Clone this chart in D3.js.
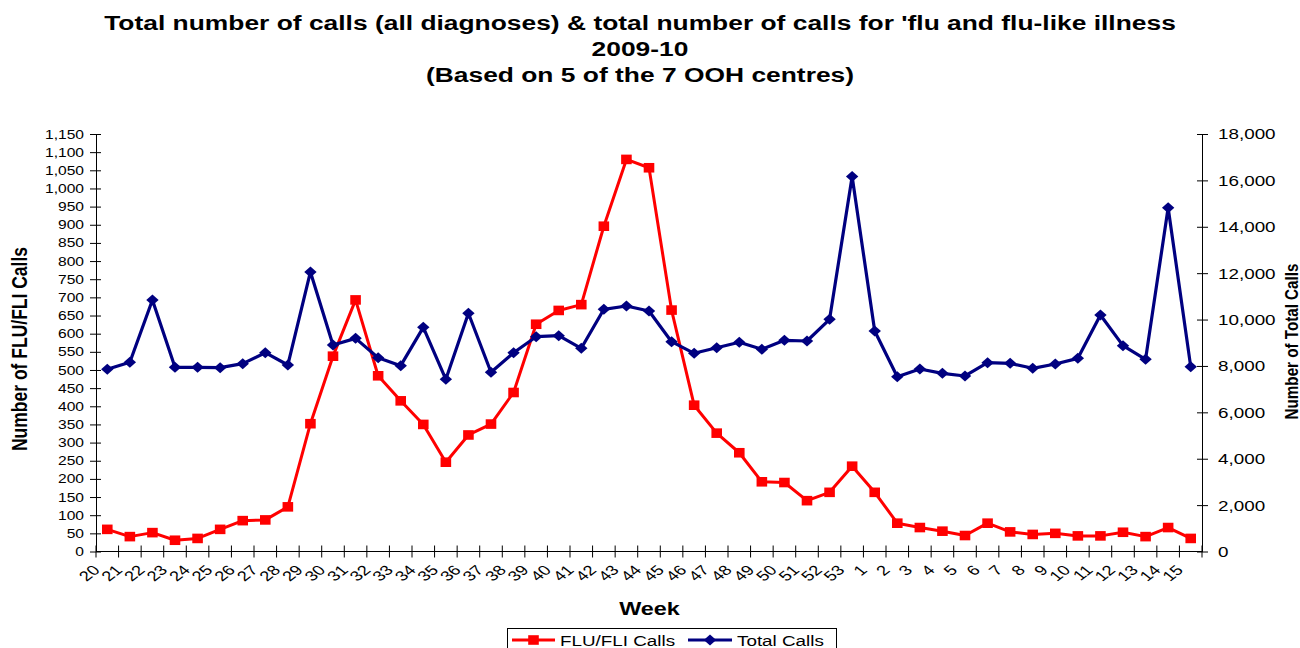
<!DOCTYPE html>
<html>
<head>
<meta charset="utf-8">
<script src="https://cdn.jsdelivr.net/npm/d3@7"></script>
<style>
  html, body { margin: 0; padding: 0; background: #fff; }
  svg { display: block; font-family: "Liberation Sans", Arial, sans-serif; }
</style>
</head>
<body>
<script>
// ---- data ----
const weeks = ["20","21","22","23","24","25","26","27","28","29","30","31","32","33","34","35","36","37","38","39","40","41","42","43","44","45","46","47","48","49","50","51","52","53","1","2","3","4","5","6","7","8","9","10","11","12","13","14","15"];
const fluCalls = [61,41,52,31,36,61,85,87,123,352,538,693,484,415,350,246,321,351,438,626,664,680,896,1080,1057,665,403,326,272,192,190,140,163,235,163,78,66,56,44,78,54,47,50,43,43,53,41,66,36];
const totalCalls = [7855,8156,10843,7941,7941,7927,8099,8571,8041,12051,8903,9190,8357,8012,9665,7424,10270,7726,8571,9261,9304,8761,10442,10585,10369,9046,8545,8787,9020,8718,9106,9076,10011,16170,9507,7537,7868,7682,7567,8141,8113,7898,8084,8328,10197,8874,8285,14824,7970];
const leftTicks = d3.range(0, 1151, 50);
const rightTicks = d3.range(0, 18001, 2000);
const titleLines = ["Total number of calls (all diagnoses) & total number of calls for 'flu and flu-like illness", "2009-10", "(Based on 5 of the 7 OOH centres)"];
const seriesNames = ["FLU/FLI Calls", "Total Calls"];

// ---- layout ----
const W = 1300, H = 648;
const plot = { left: 96, right: 1202, top: 134, bottom: 551.5 };

const svg = d3.select("body").append("svg").attr("width", W).attr("height", H);

const x = d3.scaleBand().domain(weeks).range([plot.left, plot.right]).padding(0);
const xc = d => x(d) + x.bandwidth() / 2;
const yL = d3.scaleLinear().domain([0, 1150]).range([plot.bottom, plot.top]);
const yR = d3.scaleLinear().domain([0, 18000]).range([plot.bottom, plot.top]);
const fmt = d3.format(",");

// Title
titleLines.forEach((t, i) => {
  svg.append("text")
    .attr("transform", `translate(640,${[30, 56, 81.7][i]}) scale(1.32,1)`)
    .attr("text-anchor", "middle")
    .attr("font-weight", "bold")
    .attr("font-size", 20)
    .attr("fill", "#000")
    .text(t);
});

// Left axis
const gL = svg.append("g").attr("transform", `translate(${plot.left},0)`)
  .call(d3.axisLeft(yL).tickValues(leftTicks).tickFormat(fmt).tickSize(6).tickSizeOuter(0));
gL.select(".domain").attr("stroke", "#000").attr("stroke-width", 1);
gL.selectAll(".tick line").attr("x1", -6).attr("x2", 5).attr("stroke", "#000");
gL.selectAll(".tick text")
  .attr("x", null).attr("dy", "0.34em")
  .attr("transform", "translate(-12,0) scale(1.3,1)")
  .attr("font-size", 12).attr("font-family", "Liberation Sans, Arial, sans-serif").attr("fill", "#000");

// Right axis
const gR = svg.append("g").attr("transform", `translate(${plot.right},0)`)
  .call(d3.axisRight(yR).tickValues(rightTicks).tickFormat(fmt).tickSize(6).tickSizeOuter(0));
gR.select(".domain").attr("stroke", "#000").attr("stroke-width", 1);
gR.selectAll(".tick line").attr("x1", -5).attr("x2", 6).attr("stroke", "#000");
gR.selectAll(".tick text")
  .attr("x", null).attr("dy", "0.34em")
  .attr("transform", "translate(16,0) scale(1.3,1)")
  .attr("font-size", 14.5).attr("font-family", "Liberation Sans, Arial, sans-serif").attr("fill", "#000");

// Bottom axis line + boundary ticks
svg.append("line")
  .attr("x1", plot.left).attr("x2", plot.right)
  .attr("y1", plot.bottom).attr("y2", plot.bottom)
  .attr("stroke", "#000");
const bounds = weeks.map(d => x(d)).concat([plot.right]);
svg.append("g").selectAll("line").data(bounds).join("line")
  .attr("x1", d => d).attr("x2", d => d)
  .attr("y1", plot.bottom - 6).attr("y2", plot.bottom + 6)
  .attr("stroke", "#000");

// X labels
svg.append("g").selectAll("text").data(weeks).join("text")
  .attr("transform", d => `translate(${xc(d) - 11},${plot.bottom + 16}) scale(1.3,1) rotate(-45)`)
  .attr("text-anchor", "end")
  .attr("dy", "0.35em")
  .attr("font-size", 14)
  .attr("fill", "#000")
  .text(d => d);

// Axis titles
svg.append("text")
  .attr("transform", `translate(19,349) scale(1.3,1) rotate(-90)`)
  .attr("text-anchor", "middle").attr("dy", "0.35em")
  .attr("font-weight", "bold").attr("font-size", 17.5)
  .text("Number of FLU/FLI Calls");
svg.append("text")
  .attr("transform", `translate(1292,341.5) scale(1.15,1) rotate(-90)`)
  .attr("text-anchor", "middle").attr("dy", "0.35em")
  .attr("font-weight", "bold").attr("font-size", 15.2)
  .text("Number of Total Calls");
svg.append("text")
  .attr("transform", `translate(649.5,615) scale(1.3,1)`)
  .attr("text-anchor", "middle")
  .attr("font-weight", "bold").attr("font-size", 18)
  .text("Week");

// Lines
const RED = "#FF0000", NAVY = "#000080";
const lineL = d3.line().x((d, i) => xc(weeks[i])).y(d => yL(d));
const lineR = d3.line().x((d, i) => xc(weeks[i])).y(d => yR(d));

svg.append("path").datum(fluCalls).attr("d", lineL)
  .attr("fill", "none").attr("stroke", RED).attr("stroke-width", 3).attr("stroke-linejoin", "round");
svg.append("path").datum(totalCalls).attr("d", lineR)
  .attr("fill", "none").attr("stroke", NAVY).attr("stroke-width", 3.2).attr("stroke-linejoin", "round");

const diamond = (cx, cy, hw = 6.2, hh = 5.5) => `M${cx - hw},${cy}L${cx},${cy - hh}L${cx + hw},${cy}L${cx},${cy + hh}Z`;
const square = (cx, cy, hw = 5.3, hh = 4.8) => `M${cx - hw},${cy - hh}H${cx + hw}V${cy + hh}H${cx - hw}Z`;

svg.append("g").selectAll("path").data(fluCalls).join("path")
  .attr("d", (d, i) => square(xc(weeks[i]), yL(d)))
  .attr("fill", RED);
svg.append("g").selectAll("path").data(totalCalls).join("path")
  .attr("d", (d, i) => diamond(xc(weeks[i]), yR(d)))
  .attr("fill", NAVY);

// Legend
const lg = svg.append("g");
lg.append("rect").attr("x", 507.5).attr("y", 628.5).attr("width", 329).attr("height", 30)
  .attr("fill", "#fff").attr("stroke", "#000").attr("stroke-width", 1);
lg.append("line").attr("x1", 512).attr("x2", 555).attr("y1", 640).attr("y2", 640)
  .attr("stroke", RED).attr("stroke-width", 3);
lg.append("path").attr("d", square(533.5, 640)).attr("fill", RED);
lg.append("text").attr("transform", "translate(560,645.5) scale(1.3,1)")
  .attr("font-size", 14.5).text(seriesNames[0]);
lg.append("line").attr("x1", 688).attr("x2", 732).attr("y1", 640).attr("y2", 640)
  .attr("stroke", NAVY).attr("stroke-width", 3);
lg.append("path").attr("d", diamond(710, 640)).attr("fill", NAVY);
lg.append("text").attr("transform", "translate(737,645.5) scale(1.3,1)")
  .attr("font-size", 14.5).text(seriesNames[1]);
</script>
</body>
</html>
